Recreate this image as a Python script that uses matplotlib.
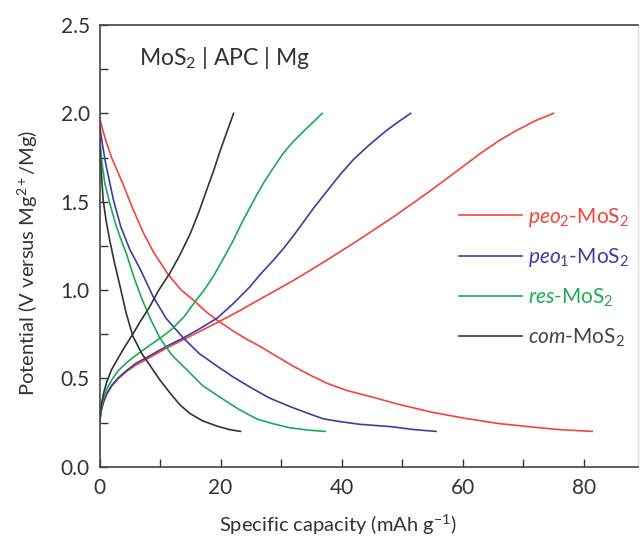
import matplotlib
matplotlib.use("Agg")
import matplotlib.pyplot as plt
from matplotlib.ticker import MultipleLocator

plt.rcParams['font.family'] = ['Lato', 'DejaVu Sans']
plt.rcParams['mathtext.fontset'] = 'custom'
plt.rcParams['mathtext.rm'] = 'Lato'
plt.rcParams['mathtext.it'] = 'Lato:italic'
plt.rcParams['mathtext.bf'] = 'Lato:bold'

# ---- data (capacity mAh/g, potential V) ----
peo2_dis_x = [0, 0.5, 1, 2, 3, 4, 5.5, 7.3, 9, 11.3, 13.5, 15.8, 17.5, 19.4, 22, 24.4, 26.6, 29, 32.1,
              35, 37.6, 41, 45, 49.2, 54.7, 60.2, 65.8, 71.3, 76, 81.4]
peo2_dis_y = [1.98, 1.91, 1.85, 1.75, 1.67, 1.59, 1.46, 1.32, 1.21, 1.09, 1.0, 0.935, 0.88, 0.83, 0.77,
              0.72, 0.68, 0.63, 0.567, 0.515, 0.472, 0.43, 0.395, 0.355, 0.31, 0.275, 0.245, 0.225, 0.21, 0.2]
peo2_chg_x = [0, 0.3, 0.7, 1.2, 2, 3, 4.5, 6, 8.4, 11, 13.9, 16.5, 19.4, 23, 26.6, 32.1, 37.6, 43.1,
              48.6, 54.2, 59.7, 63, 66, 69, 72, 75]
peo2_chg_y = [0.25, 0.32, 0.37, 0.41, 0.455, 0.495, 0.54, 0.575, 0.62, 0.67, 0.72, 0.765, 0.815, 0.88,
              0.95, 1.055, 1.17, 1.29, 1.415, 1.55, 1.69, 1.775, 1.845, 1.905, 1.958, 2.0]

peo1_dis_x = [0, 0.5, 1, 2.3, 3.5, 5, 6.7, 8.9, 11, 13.9, 16.5, 19.4, 22, 24.9, 28, 31.5, 35, 37.1,
              39.8, 43, 48.1, 52, 55.6]
peo1_dis_y = [1.94, 1.82, 1.72, 1.51, 1.36, 1.23, 1.12, 0.96, 0.84, 0.727, 0.64, 0.57, 0.51, 0.45, 0.39,
              0.34, 0.295, 0.27, 0.255, 0.24, 0.227, 0.21, 0.2]
peo1_chg_x = [0, 0.3, 0.7, 1.2, 2, 3, 4.5, 6, 8.4, 11, 13.9, 16.5, 19.4, 22, 24.9, 26.6, 28.5, 30.4,
              32.1, 33.7, 35.4, 37.6, 39.8, 42, 44.2, 46, 47.5, 49.5, 51.4]
peo1_chg_y = [0.25, 0.32, 0.37, 0.415, 0.46, 0.5, 0.545, 0.585, 0.63, 0.68, 0.73, 0.78, 0.84, 0.92,
              1.02, 1.09, 1.16, 1.235, 1.31, 1.385, 1.465, 1.56, 1.655, 1.74, 1.81, 1.863, 1.905, 1.955, 2.0]

res_dis_x = [0, 0.4, 0.9, 1.7, 2.6, 3.5, 4.5, 5.7, 7.0, 8.5, 10, 12, 14.4, 17, 20.5, 23, 26, 28.5,
             31.5, 34.5, 37.3]
res_dis_y = [1.88, 1.72, 1.6, 1.49, 1.38, 1.29, 1.2, 1.07, 0.95, 0.83, 0.727, 0.63, 0.55, 0.46, 0.38,
             0.325, 0.27, 0.245, 0.22, 0.207, 0.2]
res_chg_x = [0, 0.3, 0.7, 1.2, 2, 3, 4.5, 6, 8, 10, 12, 14, 15.8, 17.3, 18.8, 20.5, 22.15, 23.5,
             24.9, 26, 27.1, 28.7, 30.4, 32, 33.7, 35.3, 36.8]
res_chg_y = [0.25, 0.33, 0.39, 0.44, 0.49, 0.54, 0.59, 0.63, 0.68, 0.727, 0.78, 0.85, 0.935, 1.0,
             1.077, 1.18, 1.284, 1.38, 1.47, 1.54, 1.606, 1.69, 1.776, 1.84, 1.898, 1.95, 2.0]

com_dis_x = [0, 0.2, 0.6, 1.1, 1.7, 2.5, 3.4, 4.4, 5.5, 7, 8.4, 10, 11.7, 13.3, 15, 17, 19.4, 21.5, 23.3]
com_dis_y = [1.85, 1.72, 1.51, 1.39, 1.28, 1.15, 1.02, 0.87, 0.74, 0.64, 0.57, 0.49, 0.415, 0.35,
             0.3, 0.26, 0.23, 0.21, 0.2]
com_chg_x = [0, 0.3, 0.7, 1.2, 2, 3, 4.2, 5.5, 6.7, 8.2, 9.8, 11.7, 13.3, 15, 16.4, 17.75, 18.9,
             19.95, 21, 22.15]
com_chg_y = [0.25, 0.35, 0.42, 0.48, 0.55, 0.61, 0.68, 0.75, 0.82, 0.9, 1.0, 1.1, 1.2, 1.32, 1.44,
             1.57, 1.68, 1.79, 1.89, 2.0]

series_names = [r"$\mathit{peo}_{2}$-MoS$_{2}$", r"$\mathit{peo}_{1}$-MoS$_{2}$",
                r"$\mathit{res}$-MoS$_{2}$", r"$\mathit{com}$-MoS$_{2}$"]
colors = ['#f2443b', '#3f3ca3', '#1daa57', '#333333']
text_colors = ['#f2443b', '#3f3ca3', '#1daa57', '#444444']

fig = plt.figure(figsize=(6.42, 5.38), dpi=100)
ax = fig.add_axes([0.155, 0.1325, 0.839, 0.821])

curves = [(peo2_dis_x, peo2_dis_y, peo2_chg_x, peo2_chg_y),
          (peo1_dis_x, peo1_dis_y, peo1_chg_x, peo1_chg_y),
          (res_dis_x, res_dis_y, res_chg_x, res_chg_y),
          (com_dis_x, com_dis_y, com_chg_x, com_chg_y)]

handles = []
for (dx, dy, cx, cy), c, name in zip(curves, colors, series_names):
    h, = ax.plot(dx, dy, color=c, lw=1.2, label=name)
    ax.plot(cx, cy, color=c, lw=1.2)
    handles.append(h)

ax.set_xlim(0, 89)
ax.set_ylim(0, 2.5)
ax.xaxis.set_major_locator(MultipleLocator(20))
ax.xaxis.set_minor_locator(MultipleLocator(10))
ax.yaxis.set_major_locator(MultipleLocator(0.5))
ax.yaxis.set_minor_locator(MultipleLocator(0.25))
ax.set_yticks([0, 0.5, 1.0, 1.5, 2.0, 2.5])
ax.set_yticklabels(['0.0', '0.5', '1.0', '1.5', '2.0', '2.5'])
ax.tick_params(which='both', direction='in', top=False, right=False, labelsize=15,
               colors='#333333', labelcolor='#333333')
ax.tick_params(which='major', length=6, width=1.0)
ax.tick_params(which='minor', length=6, width=1.0)
ax.tick_params(axis='x', pad=8)
ax.tick_params(axis='y', pad=7)

for s in ['left', 'bottom', 'top']:
    ax.spines[s].set_color('#444444')
    ax.spines[s].set_linewidth(1.2)
ax.spines['right'].set_color('#dddddd')
ax.spines['right'].set_linewidth(1.0)

ax.set_xlabel(r"Specific capacity (mAh g$^{-1}$)", fontsize=14.5, color='#333333')
ax.set_ylabel(r"Potential (V versus Mg$^{2+}$/Mg)", fontsize=14.5, color='#333333')
ax.xaxis.set_label_coords(0.443, -0.104)
ax.yaxis.set_label_coords(-0.11, 0.4615)

ax.text(0.073, 0.9095, r"MoS$_{2}$ | APC | Mg", transform=ax.transAxes, fontsize=16.5,
        color='#333333', va='baseline', ha='left')

leg = ax.legend(handles=handles, loc='upper left', bbox_to_anchor=(0.652, 0.61),
                frameon=False, fontsize=15, handlelength=3.0, handletextpad=0.3,
                labelspacing=0.84, borderaxespad=0)
for t, tc in zip(leg.get_texts(), text_colors):
    t.set_color(tc)

fig.savefig("out.png", dpi=100)
